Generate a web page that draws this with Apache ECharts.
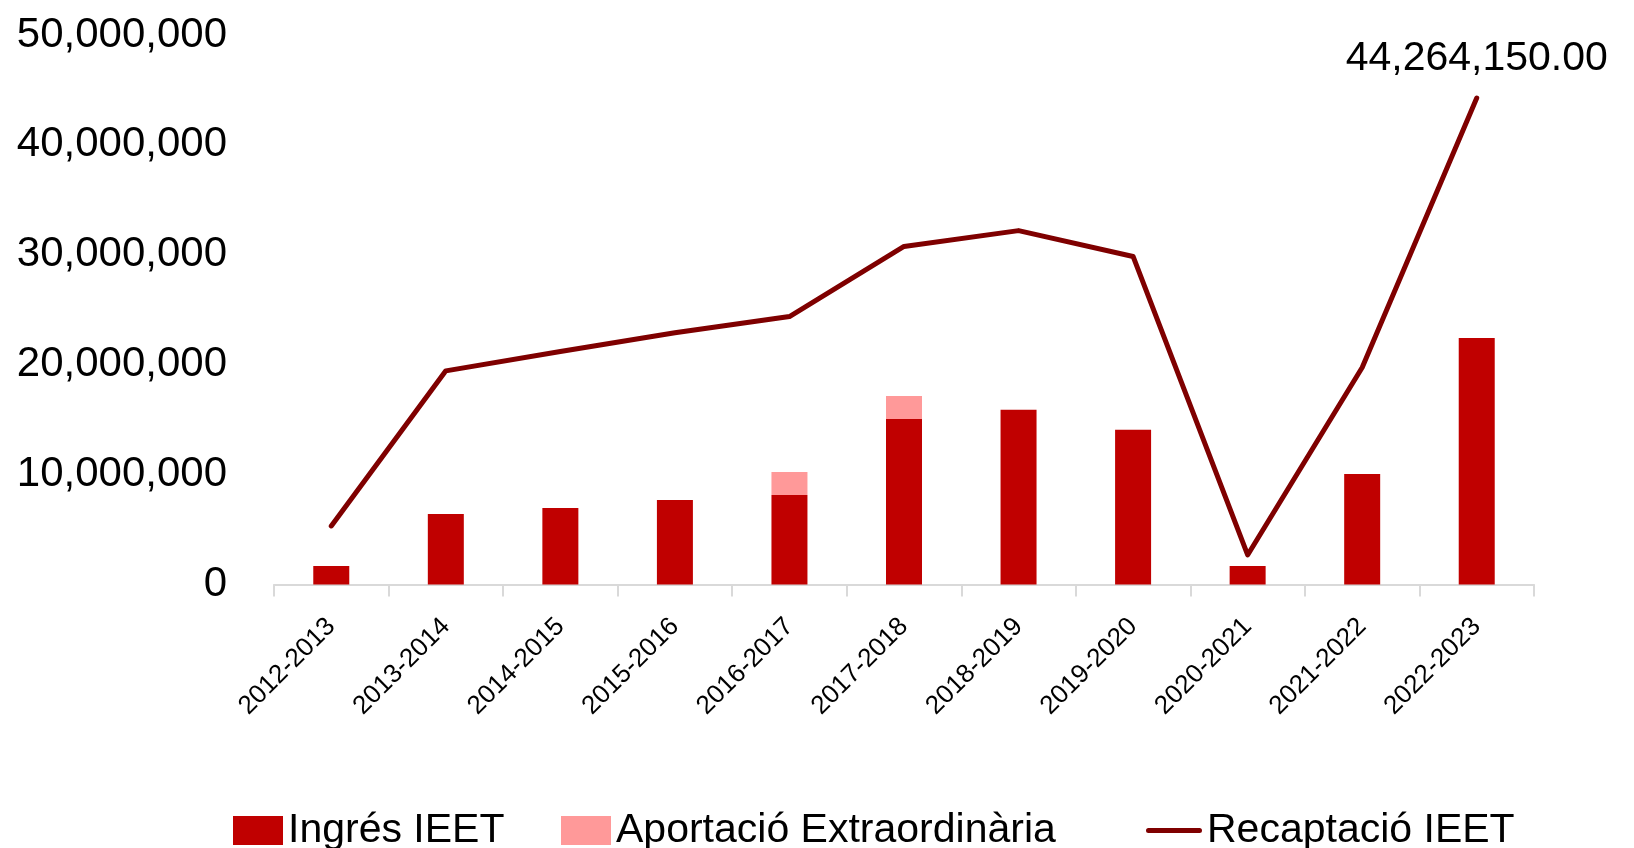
<!DOCTYPE html>
<html>
<head>
<meta charset="utf-8">
<script src="https://cdn.jsdelivr.net/npm/echarts@6/dist/echarts.min.js"></script>
<style>
html,body{margin:0;padding:0;background:#fff;}
#chart{width:1634px;height:848px;}
</style>
</head>
<body>
<div id="chart"></div>
<script>
const categories = ['2012-2013','2013-2014','2014-2015','2015-2016','2016-2017','2017-2018','2018-2019','2019-2020','2020-2021','2021-2022','2022-2023'];
const ingres = [1680000, 6420000, 6960000, 7690000, 8150000, 15070000, 15890000, 14070000, 1680000, 10060000, 22440000];
const aportacio = [0, 0, 0, 0, 2090000, 2090000, 0, 0, 0, 0, 0];
const recaptacio = [5330000, 19440000, 21200000, 22900000, 24380000, 30760000, 32200000, 29850000, 2690000, 19740000, 44264150];
const seriesNames = ['Ingrés IEET', 'Aportació Extraordinària', 'Recaptació IEET'];

const FONT = '"Liberation Sans", Arial, sans-serif';
const chart = echarts.init(document.getElementById('chart'), null, {renderer: 'canvas'});

const lineData = recaptacio.map((v, i) => i === recaptacio.length - 1 ? {
  value: v,
  label: {
    show: true, position: 'top', distance: 18,
    fontFamily: FONT, fontSize: 41, color: '#000',
    formatter: p => Number(p.value).toLocaleString('en-US', {minimumFractionDigits: 2, maximumFractionDigits: 2})
  }
} : v);

const lineIcon = 'path://M0,0 L0,0 Z M2.5,12 L53.5,12 A2.5,2.5 0 0 1 53.5,17 L2.5,17 A2.5,2.5 0 0 1 2.5,12 Z M56,29 L56,29 Z';

const legendBase = {
  top: 805,
  itemHeight: 29,
  textStyle: {fontFamily: FONT, fontSize: 41, color: '#000'}
};

chart.setOption({
  animation: false,
  textStyle: {fontFamily: FONT},
  grid: {left: 274, right: 100, top: 35, bottom: 263.5, containLabel: false},
  legend: [
    Object.assign({}, legendBase, {left: 228, itemWidth: 50, data: [{name: seriesNames[0], icon: 'rect'}]}),
    Object.assign({}, legendBase, {left: 556, itemWidth: 50, data: [{name: seriesNames[1], icon: 'rect'}]}),
    Object.assign({}, legendBase, {left: 1141, itemWidth: 56, data: [{name: seriesNames[2], icon: lineIcon, itemStyle: {color: '#7f0000', borderWidth: 0}}]})
  ],
  xAxis: {
    type: 'category',
    data: categories,
    boundaryGap: true,
    axisLine: {lineStyle: {color: '#d9d9d9', width: 2}},
    axisTick: {show: true, alignWithLabel: false, length: 12, lineStyle: {color: '#d9d9d9', width: 2}},
    axisLabel: {rotate: 45, margin: 38, fontFamily: FONT, fontSize: 26, color: '#000'}
  },
  yAxis: {
    type: 'value',
    min: 0, max: 50000000, interval: 10000000,
    splitLine: {show: false},
    axisLine: {show: false},
    axisTick: {show: false},
    axisLabel: {
      margin: 47, fontFamily: FONT, fontSize: 42, color: '#000',
      formatter: v => Number(v).toLocaleString('en-US')
    }
  },
  series: [
    {name: seriesNames[0], type: 'bar', stack: 'total', data: ingres, barWidth: 36, itemStyle: {color: '#c00000'}},
    {name: seriesNames[1], type: 'bar', stack: 'total', data: aportacio, barWidth: 36, itemStyle: {color: '#ff9999'}},
    {name: seriesNames[2], type: 'line', data: lineData, symbol: 'circle', symbolSize: 1, showSymbol: true, z: 5,
      lineStyle: {color: '#7f0000', width: 5, cap: 'round', join: 'round'}, itemStyle: {color: '#7f0000'}}
  ]
});
</script>
</body>
</html>
